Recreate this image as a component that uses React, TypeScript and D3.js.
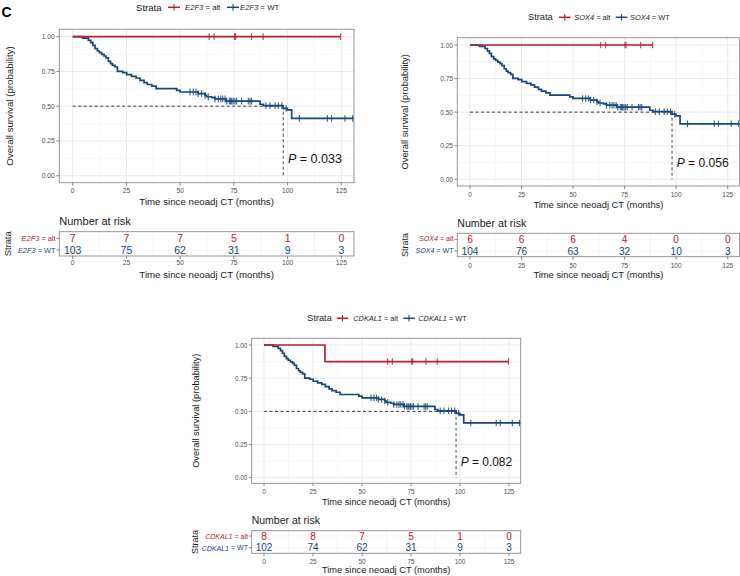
import * as d3 from "d3";
import React from "react";

const FONT = "'Liberation Sans', Arial, Helvetica, sans-serif";
const RED = "#B2222D";
const BLUE = "#17467A";

const genes = ["E2F3", "SOX4", "CDKAL1"];
const pValues = ["0.033", "0.056", "0.082"];
const xTicks = [0, 25, 50, 75, 100, 125];
const xMinor = [12.5, 37.5, 62.5, 87.5, 112.5];
const yTicks = [0, 0.25, 0.5, 0.75, 1];
const yMinor = [0.125, 0.375, 0.625, 0.875];
const yTickLabels = ["0.00", "0.25", "0.50", "0.75", "1.00"];
const riskTimes = [0, 25, 50, 75, 100, 125];
const medianWt = 98;

// number at risk
const riskAltE2F3 = [7, 7, 7, 5, 1, 0];
const riskWtE2F3 = [103, 75, 62, 31, 9, 3];
const riskAltSOX4 = [6, 6, 6, 4, 0, 0];
const riskWtSOX4 = [104, 76, 63, 32, 10, 3];
const riskAltCDKAL1 = [8, 8, 7, 5, 1, 0];
const riskWtCDKAL1 = [102, 74, 62, 31, 9, 3];

// WT survival steps [months, survival] (same cohort in all three)
const wtSteps: [number, number][] = [
  [0, 1], [4.6, 0.99], [7.3, 0.974], [8.4, 0.957], [9.4, 0.938], [10.4, 0.914],
  [11.5, 0.897], [12.4, 0.885], [13.5, 0.873], [14.6, 0.861], [15.5, 0.847],
  [16.6, 0.823], [17.6, 0.806], [18.5, 0.794], [19.7, 0.782], [20.8, 0.751],
  [23.3, 0.742], [25.1, 0.727], [27.4, 0.715], [29.5, 0.703], [31.3, 0.686],
  [33.2, 0.67], [34.7, 0.656], [36.8, 0.644], [38.8, 0.627], [48.4, 0.614],
  [50, 0.602], [58.4, 0.59], [61.6, 0.578], [62.3, 0.568], [64.7, 0.561],
  [66.2, 0.552], [71.3, 0.537], [87.2, 0.514], [88.7, 0.504], [98.0, 0.485],
  [99.9, 0.473], [101.9, 0.413],
];
const wtEnd = 135;
const wtCensor = [
  54.6, 56.1, 57.4, 58.4, 60, 61.6, 63.1, 66.2, 67.8, 68.9, 69.8, 70.9, 71.7,
  72.9, 73.5, 74, 74.7, 75.5, 76.3, 78.6, 81.7, 82.5, 83.3, 89.9, 91.8, 94.2,
  95.7, 97.3, 99.3, 105.5, 118.5, 120.5, 126.7, 130.3,
];

// altered groups
const altStepsE2F3: [number, number][] = [[0, 1]];
const altCensorE2F3 = [63.5, 65.8, 75.3, 75.8, 83.2, 88.6, 124.7];
const altStepsSOX4: [number, number][] = [[0, 1]];
const altCensorSOX4 = [63.4, 65.8, 75.2, 75.7, 82.8, 88.6];
const altStepsCDKAL1: [number, number][] = [[0, 1], [31.1, 0.875]];
const altCensorCDKAL1 = [63.1, 65.5, 75.3, 75.9, 82.6, 88.4, 124.7];

const layouts = [
  {
    x0: 72.7, x125: 341.3, left: 59.3, right: 354, top: 29.3, bottom: 182.7,
    y1: 36.7, y0: 175.7, s: 1, legendY: 7.3, legendX: [136, 168, 185, 227, 240],
    xTickY: 190.7, xTitleY: 201, yTitleX: 9, pX: 288, pY: 159, narY: 220.7,
    tblTop: 231.7, tblBot: 256, row1: 238.3, row2: 250, strataX: 7,
    tblTickY: 262, tblTitleY: 274,
  },
  {
    x0: 470, x125: 727.7, left: 457.3, right: 739.5, top: 37.7, bottom: 186,
    y1: 45, y0: 179.3, s: 0.966, legendY: 17.3, legendX: [528, 559, 574.3, 615.7, 630],
    xTickY: 194, xTitleY: 204.5, yTitleX: 405, pX: 676.7, pY: 163.3, narY: 223,
    tblTop: 233.3, tblBot: 256.7, row1: 239.3, row2: 251, strataX: 405,
    tblTickY: 265, tblTitleY: 274.5,
  },
  {
    x0: 264, x125: 509, left: 251.7, right: 520.7, top: 338.3, bottom: 483.3,
    y1: 345, y0: 477.7, s: 0.955, legendY: 318.3, legendX: [307.3, 336.7, 353.3, 403.3, 418.3],
    xTickY: 491, xTitleY: 501.7, yTitleX: 196, pX: 460.7, pY: 461.7, narY: 520,
    tblTop: 530.7, tblBot: 553.3, row1: 536, row2: 547.7, strataX: 195,
    tblTickY: 561.7, tblTitleY: 570,
  },
];

type Layout = (typeof layouts)[number];

const survAt = (steps: [number, number][], t: number) => {
  let v = steps[0][1];
  for (const [st, sv] of steps) if (st <= t) v = sv;
  return v;
};

interface PanelProps {
  id: number;
  L: Layout;
  gene: string;
  p: string;
  alt: [number, number][];
  altCensor: number[];
  riskAlt: number[];
  riskWt: number[];
}

const KMPanel: React.FC<PanelProps> = ({ id, L, gene, p, alt, altCensor, riskAlt, riskWt }) => {
  const s = L.s;
  const x = d3.scaleLinear().domain([0, 125]).range([L.x0, L.x125]);
  const y = d3.scaleLinear().domain([0, 1]).range([L.y0, L.y1]);
  const line = d3
    .line<[number, number]>()
    .x((d) => x(d[0]))
    .y((d) => y(d[1]))
    .curve(d3.curveStepAfter);

  const altEnd = d3.max(altCensor) as number;
  const wtPts: [number, number][] = [...wtSteps, [wtEnd, wtSteps[wtSteps.length - 1][1]]];
  const altPts: [number, number][] = [...alt, [altEnd, alt[alt.length - 1][1]]];
  const tickH = 3 * s;
  const cm = 3.4 * s;
  const midX = (L.left + L.right) / 2;
  const clip = `clip${id}`;
  const tickFs = 6.7 * s;
  const titleFs = 9.7 * s;

  const legendItem = (kx: number, tx: number, color: string, lab: string) => (
    <g>
      <line x1={kx} x2={kx + 12 * s} y1={L.legendY} y2={L.legendY} stroke={color} strokeWidth={1.5} />
      <line x1={kx + 6 * s} x2={kx + 6 * s} y1={L.legendY - 3.2} y2={L.legendY + 3.2} stroke={color} strokeWidth={1.1} />
      <text x={tx} y={L.legendY} dominantBaseline="central" fontSize={7.7 * s} fill="#1a1a1a">
        <tspan fontStyle="italic">{gene}</tspan>
        {` = ${lab}`}
      </text>
    </g>
  );

  return (
    <g fontFamily={FONT}>
      <defs>
        <clipPath id={clip}>
          <rect x={L.left} y={L.top} width={L.right - L.left} height={L.bottom - L.top} />
        </clipPath>
      </defs>

      {/* legend */}
      <text x={L.legendX[0]} y={L.legendY} dominantBaseline="central" fontSize={9.6 * s} fill="#1a1a1a">
        Strata
      </text>
      {legendItem(L.legendX[1], L.legendX[2], RED, "alt")}
      {legendItem(L.legendX[3], L.legendX[4], BLUE, "WT")}

      {/* panel grid */}
      <rect x={L.left} y={L.top} width={L.right - L.left} height={L.bottom - L.top} fill="#fff" />
      <g clipPath={`url(#${clip})`}>
        {xMinor.map((t) => (
          <line key={"xm" + t} x1={x(t)} x2={x(t)} y1={L.top} y2={L.bottom} stroke="#f2f2f2" strokeWidth={0.6} />
        ))}
        {yMinor.map((t) => (
          <line key={"ym" + t} x1={L.left} x2={L.right} y1={y(t)} y2={y(t)} stroke="#f2f2f2" strokeWidth={0.6} />
        ))}
        {xTicks.map((t) => (
          <line key={"xg" + t} x1={x(t)} x2={x(t)} y1={L.top} y2={L.bottom} stroke="#e6e6e6" strokeWidth={0.9} />
        ))}
        {yTicks.map((t) => (
          <line key={"yg" + t} x1={L.left} x2={L.right} y1={y(t)} y2={y(t)} stroke="#e6e6e6" strokeWidth={0.9} />
        ))}

        {/* median */}
        <line x1={x(0)} x2={x(medianWt)} y1={y(0.5)} y2={y(0.5)} stroke="#222" strokeWidth={0.9} strokeDasharray="3,2.5" />
        <line x1={x(medianWt)} x2={x(medianWt)} y1={y(0.5)} y2={y(0)} stroke="#555" strokeWidth={1.1} strokeDasharray="3,2.5" />

        {/* curves */}
        <path d={line(wtPts) ?? ""} fill="none" stroke={BLUE} strokeWidth={1.7} />
        <path d={line(altPts) ?? ""} fill="none" stroke={RED} strokeWidth={1.7} />
        {wtCensor.map((t, i) => (
          <line key={"wc" + i} x1={x(t)} x2={x(t)} y1={y(survAt(wtSteps, t)) - cm} y2={y(survAt(wtSteps, t)) + cm}
            stroke={BLUE} strokeWidth={1.1} opacity={0.85} />
        ))}
        {altCensor.map((t, i) => (
          <line key={"ac" + i} x1={x(t)} x2={x(t)} y1={y(survAt(alt, t)) - cm} y2={y(survAt(alt, t)) + cm}
            stroke={RED} strokeWidth={1.1} opacity={0.85} />
        ))}
      </g>
      <rect x={L.left} y={L.top} width={L.right - L.left} height={L.bottom - L.top} fill="none" stroke="#8a8a8a" strokeWidth={0.9} />

      {/* p value */}
      <text x={L.pX} y={L.pY} dominantBaseline="central" fontSize={12.5 * s} fill="#111">
        <tspan fontStyle="italic">P</tspan>
        {` = ${p}`}
      </text>

      {/* axes */}
      {yTicks.map((t, i) => (
        <g key={"yt" + t}>
          <line x1={L.left - tickH} x2={L.left} y1={y(t)} y2={y(t)} stroke="#555" strokeWidth={0.7} />
          <text x={L.left - tickH - 1.5} y={y(t)} dominantBaseline="central" textAnchor="end" fontSize={tickFs} fill="#4d4d4d">
            {yTickLabels[i]}
          </text>
        </g>
      ))}
      {xTicks.map((t) => (
        <g key={"xt" + t}>
          <line x1={x(t)} x2={x(t)} y1={L.bottom} y2={L.bottom + tickH} stroke="#555" strokeWidth={0.7} />
          <text x={x(t)} y={L.xTickY} dominantBaseline="central" textAnchor="middle" fontSize={tickFs} fill="#4d4d4d">
            {t}
          </text>
        </g>
      ))}
      <text x={midX} y={L.xTitleY} dominantBaseline="central" textAnchor="middle" fontSize={titleFs} fill="#1a1a1a">
        Time since neoadj CT (months)
      </text>
      <text transform={`translate(${L.yTitleX},${(L.top + L.bottom) / 2}) rotate(-90)`} dominantBaseline="central"
        textAnchor="middle" fontSize={titleFs} fill="#1a1a1a">
        Overall survival (probability)
      </text>

      {/* risk table */}
      <text x={L.left} y={L.narY} dominantBaseline="central" fontSize={11 * s} fill="#1a1a1a">
        Number at risk
      </text>
      <rect x={L.left} y={L.tblTop} width={L.right - L.left} height={L.tblBot - L.tblTop} fill="#fff" />
      {xMinor.map((t) => (
        <line key={"txm" + t} x1={x(t)} x2={x(t)} y1={L.tblTop} y2={L.tblBot} stroke="#ececec" strokeWidth={0.6} />
      ))}
      {xTicks.map((t) => (
        <line key={"txg" + t} x1={x(t)} x2={x(t)} y1={L.tblTop} y2={L.tblBot} stroke="#ececec" strokeWidth={0.8} />
      ))}
      {[L.row1, L.row2].map((r) => (
        <line key={"tr" + r} x1={L.left} x2={L.right} y1={r} y2={r} stroke="#f0f0f0" strokeWidth={0.6} />
      ))}
      <rect x={L.left} y={L.tblTop} width={L.right - L.left} height={L.tblBot - L.tblTop} fill="none" stroke="#8a8a8a" strokeWidth={0.9} />
      {riskTimes.map((t, i) => (
        <g key={"rk" + t}>
          <text x={x(t)} y={L.row1} dominantBaseline="central" textAnchor="middle" fontSize={10.5 * s} fill={RED}>
            {riskAlt[i]}
          </text>
          <text x={x(t)} y={L.row2} dominantBaseline="central" textAnchor="middle" fontSize={10.5 * s} fill={BLUE}>
            {riskWt[i]}
          </text>
        </g>
      ))}
      {[
        { r: L.row1, c: RED, lab: "alt" },
        { r: L.row2, c: BLUE, lab: "WT" },
      ].map((d) => (
        <g key={"sl" + d.lab}>
          <line x1={L.left - tickH} x2={L.left} y1={d.r} y2={d.r} stroke="#555" strokeWidth={0.7} />
          <text x={L.left - tickH - 0.8} y={d.r} dominantBaseline="central" textAnchor="end" fontSize={7.4 * s} fill={d.c}>
            <tspan fontStyle="italic">{gene}</tspan>
            {` = ${d.lab}`}
          </text>
        </g>
      ))}
      <text transform={`translate(${L.strataX},${(L.tblTop + L.tblBot) / 2}) rotate(-90)`} dominantBaseline="central"
        textAnchor="middle" fontSize={9.4 * s} fill="#1a1a1a">
        Strata
      </text>
      {xTicks.map((t) => (
        <g key={"tt" + t}>
          <line x1={x(t)} x2={x(t)} y1={L.tblBot} y2={L.tblBot + tickH} stroke="#555" strokeWidth={0.7} />
          <text x={x(t)} y={L.tblTickY} dominantBaseline="central" textAnchor="middle" fontSize={tickFs} fill="#4d4d4d">
            {t}
          </text>
        </g>
      ))}
      <text x={midX} y={L.tblTitleY} dominantBaseline="central" textAnchor="middle" fontSize={titleFs} fill="#1a1a1a">
        Time since neoadj CT (months)
      </text>
    </g>
  );
};

export default function App() {
  const alts = [altStepsE2F3, altStepsSOX4, altStepsCDKAL1];
  const altCensors = [altCensorE2F3, altCensorSOX4, altCensorCDKAL1];
  const riskAlts = [riskAltE2F3, riskAltSOX4, riskAltCDKAL1];
  const riskWts = [riskWtE2F3, riskWtSOX4, riskWtCDKAL1];
  return (
    <svg
      width={740}
      height={576}
      style={{ position: "absolute", left: 0, top: 0, background: "#fff" }}
    >
      <rect width={740} height={576} fill="#fff" />
      <text x={1.5} y={11.5} dominantBaseline="central" fontFamily={FONT} fontWeight="bold" fontSize={14}>
        C
      </text>
      {layouts.map((L, i) => (
        <KMPanel
          key={genes[i]}
          id={i}
          L={L}
          gene={genes[i]}
          p={pValues[i]}
          alt={alts[i]}
          altCensor={altCensors[i]}
          riskAlt={riskAlts[i]}
          riskWt={riskWts[i]}
        />
      ))}
    </svg>
  );
}
